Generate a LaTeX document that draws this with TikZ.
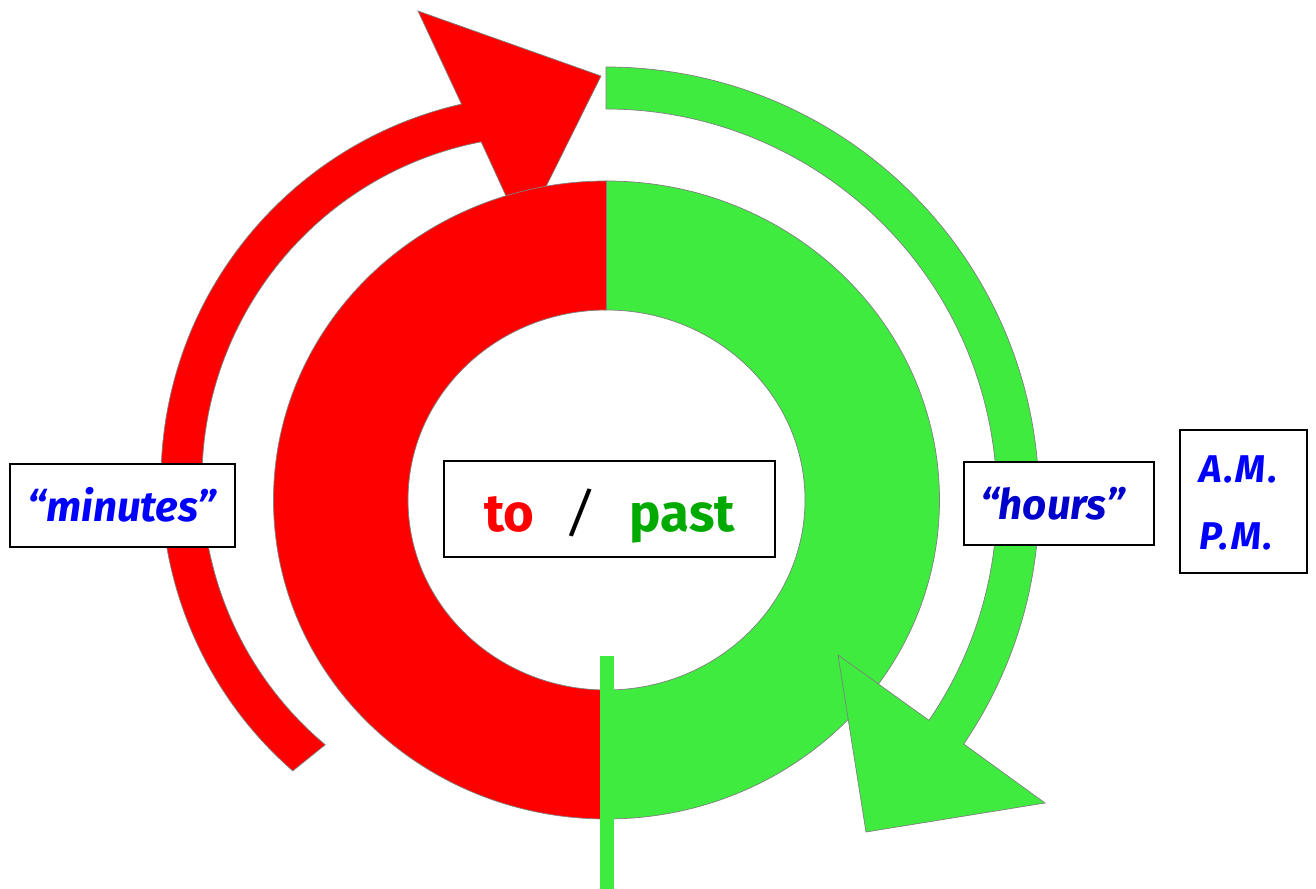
\documentclass[tikz,border=0pt]{standalone}
\usepackage{fontspec}
\setmainfont{Fira Sans}
\newfontfamily\ampmfont[LetterSpace=6]{Fira Sans}
\usepackage{xcolor}
\usetikzlibrary{calc}

\definecolor{ringred}{RGB}{255,0,0}
\definecolor{ringgreen}{RGB}{62,235,62}
\definecolor{pastgreen}{RGB}{0,170,0}
\definecolor{wordblue}{RGB}{0,0,255}
\definecolor{hoursblue}{RGB}{0,0,204}

\begin{document}
\begin{tikzpicture}[
		x=0.02cm,
		y=0.02cm,
		line join=miter,
		band/.style={
			draw=gray,
			line width=0.4pt
		},
		wordbox/.style={
			draw=black,
			fill=white,
			line width=0.7pt,
			inner sep=0pt
		},
		word/.style={
			anchor=base,
			font=\fontsize{24}{29}\selectfont\bfseries\itshape
		},
		bigword/.style={
			anchor=base,
			font=\fontsize{30}{36}\selectfont\bfseries
		},
		ampm/.style={
			anchor=base west,
			text=wordblue,
			font=\fontsize{22}{27}\selectfont\ampmfont\bfseries\itshape
		}
		]
		
		% picture frame
		\useasboundingbox (0,0) rectangle (1316,889);
		
		% centres
		\coordinate (rc) at (547,408.5);
		\coordinate (gc) at (606,389);
		\coordinate (oc) at (606.5,389);
		
		% arrow heads
		\coordinate (rh1)  at (418,878);
		\coordinate (rtip) at (601,813);
		\coordinate (rh2)  at (523,656);
		\coordinate (gh1)  at (1045,86);
		\coordinate (gtip) at (866,57);
		\coordinate (gh2)  at (838,234);
		
		% red minutes arrow
		\filldraw[band,fill=ringred] ($(rc)+(228.8:386)$)
			arc[start angle=228.8,end angle=102.8,radius=386]
			-- (rh1) -- (rtip) -- (rh2)
			-- ($(rc)+(101:345)$)
			arc[start angle=101,end angle=230,radius=345] -- cycle;
		
		% ring: to half and past half
		\filldraw[band,fill=ringred] ($(oc)+(0,319)$)
			arc[start angle=90,end angle=270,x radius=333,y radius=319]
			-- ($(oc)+(0,-190)$)
			arc[start angle=270,end angle=90,x radius=198.5,y radius=190] -- cycle;
		\filldraw[band,fill=ringgreen] ($(oc)+(0,319)$)
			arc[start angle=90,end angle=-90,x radius=333,y radius=319]
			-- ($(oc)+(0,-190)$)
			arc[start angle=-90,end angle=90,x radius=198.5,y radius=190] -- cycle;
		
		% half hour mark
		\fill[ringgreen] (600,0) rectangle (614,233);
		
		% green hours arrow
		\filldraw[band,fill=ringgreen] ($(gc)+(90:433)$)
			arc[start angle=90,end angle=-34.3,radius=433]
			-- (gh1) -- (gtip) -- (gh2)
			-- ($(gc)+(-34.3:391)$)
			arc[start angle=-34.3,end angle=90,radius=391] -- cycle;
		
		% boxes
		\node[wordbox,minimum width=4.5cm,minimum height=1.66cm] (minbox) at (122.5,383.5) {};
		\node[wordbox,minimum width=6.62cm,minimum height=1.92cm] (midbox) at (609.5,380) {};
		\node[wordbox,minimum width=3.8cm,minimum height=1.66cm] (hourbox) at (1059,385.5) {};
		\node[wordbox,minimum width=2.54cm,minimum height=2.86cm] (ampmbox) at (1243.5,387.5) {};
		
		% labels
		\node[word,text=wordblue] (minutes) at (122,367) {“minutes”};
		\node[word,text=hoursblue] (hours) at (1052.5,369) {“hours”};
		
		\node[bigword,text=ringred] (to) at (509.5,357) {to};
		\node[bigword,text=black,font=\fontsize{30}{36}\selectfont\itshape] (slash) at (580,357) {/};
		\node[bigword,text=pastgreen] (past) at (682.5,357) {past};
		
		\node[ampm] (am) at (1193,406) {A.M.};
		\node[ampm] (pm) at (1193,339) {P.M.};
\end{tikzpicture}
\end{document}
